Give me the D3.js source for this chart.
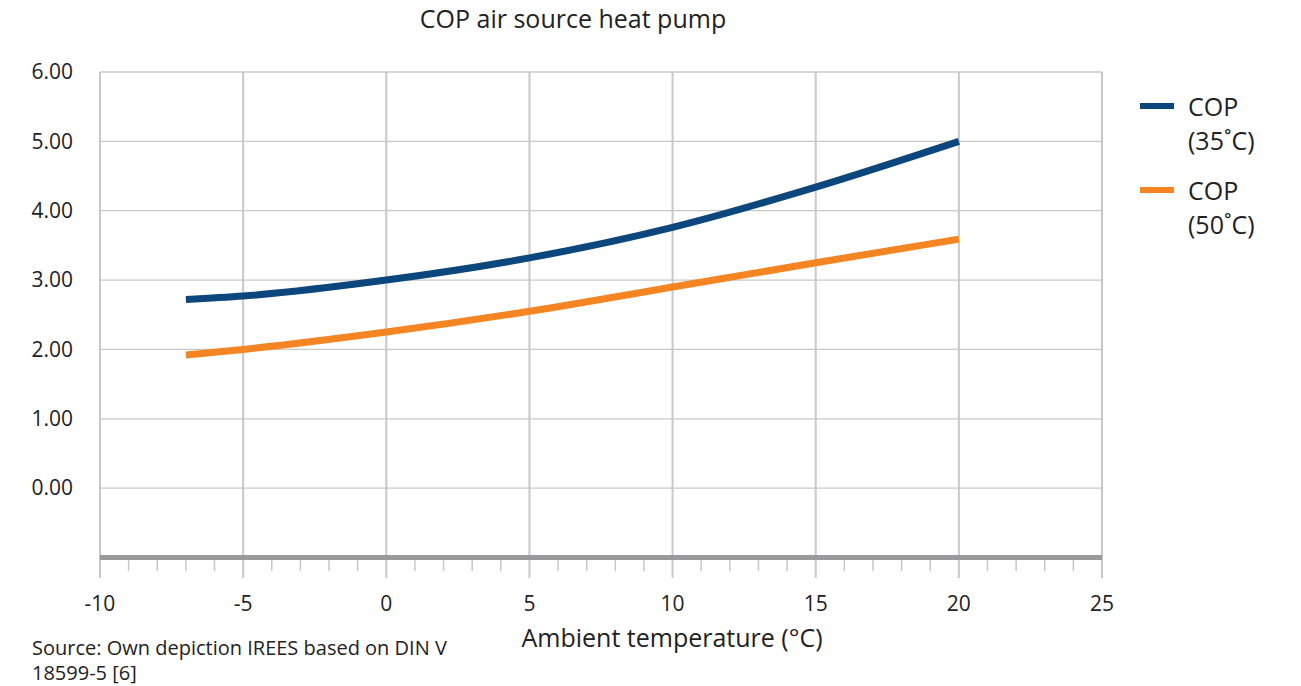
<!DOCTYPE html>
<html><head><meta charset="utf-8">
<script src="https://cdn.jsdelivr.net/npm/d3@7"></script>
<style>body{margin:0;background:#fff;font-family:"Open Sans","Noto Sans",sans-serif;}</style>
</head><body>
<svg id="c" width="1301" height="686"></svg>
<script>
const temps = [-7, -5, 0, 5, 10, 15, 20];
const cop35 = [2.72, 2.77, 3.00, 3.32, 3.76, 4.34, 5.00];
const cop50 = [1.92, 2.00, 2.25, 2.55, 2.90, 3.25, 3.59];
const seriesNames = ["COP (35°C)", "COP (50°C)"];
const legendLines = [["COP", "(35˚C)"], ["COP", "(50˚C)"]];
const colors = ["#0b477c", "#f58423"];
const yTicks = [0, 1, 2, 3, 4, 5, 6];
const xTicks = [-10, -5, 0, 5, 10, 15, 20, 25];

const svg = d3.select("#c");
const x = d3.scaleLinear().domain([-10, 25]).range([100, 1102]);
const y = d3.scaleLinear().domain([-1, 6]).range([557.5, 72]);
const font = '"Open Sans","Noto Sans",sans-serif';

// horizontal grid
svg.append("g").selectAll("line").data(yTicks).join("line")
  .attr("x1", x(-10)).attr("x2", x(25))
  .attr("y1", d => y(d)).attr("y2", d => y(d))
  .attr("stroke", "#c8c8c8").attr("stroke-width", 1.3);
// vertical grid
svg.append("g").selectAll("line").data(xTicks).join("line")
  .attr("x1", d => x(d)).attr("x2", d => x(d))
  .attr("y1", y(6)).attr("y2", 578)
  .attr("stroke", "#c8c8c8").attr("stroke-width", 2);
// minor ticks
const minor = d3.range(-10, 26).filter(v => v % 5 !== 0);
svg.append("g").selectAll("line").data(minor).join("line")
  .attr("x1", d => x(d)).attr("x2", d => x(d))
  .attr("y1", 558).attr("y2", 571)
  .attr("stroke", "#c8c8c8").attr("stroke-width", 1.5);
// x axis line
svg.append("line").attr("x1", x(-10)).attr("x2", x(25))
  .attr("y1", y(-1)).attr("y2", y(-1))
  .attr("stroke", "#9a9a9c").attr("stroke-width", 5);

// y labels
svg.append("g").selectAll("text").data(yTicks).join("text")
  .attr("x", 73).attr("y", d => y(d)).attr("dy", "0.35em")
  .attr("text-anchor", "end").attr("font-family", font).attr("font-size", 21).attr("fill", "#222")
  .text(d => d.toFixed(2));
// x labels
svg.append("g").selectAll("text").data(xTicks).join("text")
  .attr("x", d => x(d)).attr("y", 611)
  .attr("text-anchor", "middle").attr("font-family", font).attr("font-size", 21).attr("fill", "#222")
  .text(d => d);

// lines
const line = d3.line().x(d => x(d[0])).y(d => y(d[1])).curve(d3.curveMonotoneX);
[cop35, cop50].forEach((vals, i) => {
  svg.append("path").datum(temps.map((t, j) => [t, vals[j]]))
    .attr("d", line).attr("fill", "none")
    .attr("stroke", colors[i]).attr("stroke-width", 7).attr("stroke-linecap", "butt");
});

// title
svg.append("text").attr("x", 573).attr("y", 28).attr("text-anchor", "middle")
  .attr("font-family", font).attr("font-size", 25).attr("fill", "#222").text("COP air source heat pump");
// axis title
svg.append("text").attr("x", 672).attr("y", 647).attr("text-anchor", "middle")
  .attr("font-family", font).attr("font-size", 25).attr("fill", "#222").text("Ambient temperature (°C)");
// source
svg.append("text").attr("x", 32).attr("y", 655).attr("font-family", font).attr("font-size", 20).attr("fill", "#222")
  .text("Source: Own depiction IREES based on DIN V");
svg.append("text").attr("x", 32).attr("y", 680).attr("font-family", font).attr("font-size", 20).attr("fill", "#222")
  .text("18599-5 [6]");

// legend
legendLines.forEach((ls, i) => {
  const by = 116 + i * 84;
  svg.append("line").attr("x1", 1140).attr("x2", 1174).attr("y1", by - 10).attr("y2", by - 10)
    .attr("stroke", colors[i]).attr("stroke-width", 6);
  ls.forEach((t, k) => {
    svg.append("text").attr("x", 1188).attr("y", by + k * 34)
      .attr("font-family", font).attr("font-size", 25).attr("fill", "#222").text(t);
  });
});
</script>
</body></html>
